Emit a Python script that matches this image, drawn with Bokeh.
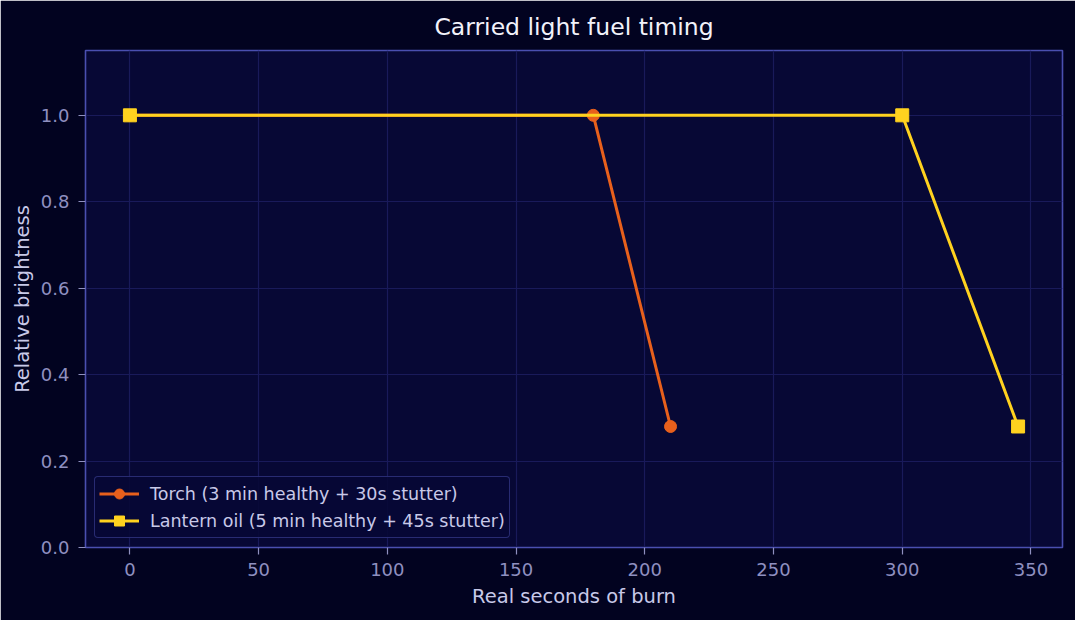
from bokeh.plotting import figure
from bokeh.embed import file_html
from bokeh.resources import INLINE
from bokeh.models import Range1d, FixedTicker, Title

torch_x = [0, 180, 210]
torch_y = [1.0, 1.0, 0.28]
lantern_x = [0, 300, 345]
lantern_y = [1.0, 1.0, 0.28]
torch_label = "Torch (3 min healthy + 30s stutter)"
lantern_label = "Lantern oil (5 min healthy + 45s stutter)"
x_ticks = [0, 50, 100, 150, 200, 250, 300, 350]
y_ticks = [0.0, 0.2, 0.4, 0.6, 0.8, 1.0]

BG = "#020320"
PLOT_BG = "#070835"
EDGE = "#4a4fb0"
GRID = "#191a5a"
TICK = "#8f90c0"
LABEL = "#c8c9e8"
TORCH = "#e8601c"
LANTERN = "#ffd21f"
FONT = "DejaVu Sans"

p = figure(width=1075, height=620, output_backend="svg", toolbar_location=None,
           x_range=Range1d(-17.25, 362.25), y_range=Range1d(0, 1.15),
           min_border_left=85, min_border_right=13, min_border_top=50, min_border_bottom=73)
p.background_fill_color = PLOT_BG
p.border_fill_color = BG
p.outline_line_color = EDGE
p.outline_line_width = 1.6

t = Title(text="Carried light fuel timing", text_color="#f2f2fa", text_font=FONT,
          text_font_size="23.5px", text_font_style="normal", align="center", standoff=20)
p.add_layout(t, "above")

p.line(torch_x, torch_y, line_color=TORCH, line_width=3, legend_label=torch_label)
p.scatter(torch_x, torch_y, marker="circle", size=12, fill_color=TORCH, line_color=TORCH,
          legend_label=torch_label)
p.line(lantern_x, lantern_y, line_color=LANTERN, line_width=3, legend_label=lantern_label)
p.scatter(lantern_x, lantern_y, marker="square", size=13, fill_color=LANTERN, line_color=LANTERN,
          legend_label=lantern_label)

p.xaxis.ticker = FixedTicker(ticks=x_ticks)
p.yaxis.ticker = FixedTicker(ticks=y_ticks)
p.yaxis.major_label_overrides = {v: f"{v:.1f}" for v in y_ticks}
for ax in (p.xaxis[0], p.yaxis[0]):
    ax.axis_line_color = None
    ax.major_tick_line_color = TICK
    ax.major_tick_line_width = 1.2
    ax.major_tick_out = 7
    ax.major_tick_in = 0
    ax.minor_tick_line_color = None
    ax.major_label_text_color = TICK
    ax.major_label_text_font = FONT
    ax.major_label_text_font_size = "18px"
    ax.axis_label_text_color = LABEL
    ax.axis_label_text_font = FONT
    ax.axis_label_text_font_size = "19.5px"
    ax.axis_label_text_font_style = "normal"
p.xaxis.axis_label = "Real seconds of burn"
p.yaxis.axis_label = "Relative brightness"
p.xaxis.major_label_standoff = 8
p.yaxis.major_label_standoff = 9
p.xaxis.axis_label_standoff = 6
p.yaxis.axis_label_standoff = 4

p.grid.grid_line_color = GRID
p.grid.grid_line_width = 1.2

p.legend.location = "bottom_left"
p.legend.margin = 9
p.legend.padding = 4
p.legend.spacing = 2
p.legend.background_fill_color = PLOT_BG
p.legend.background_fill_alpha = 0.9
p.legend.border_line_color = EDGE
p.legend.border_line_width = 1.5
p.legend.border_radius = 4
p.legend.label_text_color = LABEL
p.legend.label_text_font = FONT
p.legend.label_text_font_size = "17.5px"
p.legend.glyph_width = 40
p.legend.label_height = 25
p.legend.glyph_height = 25
p.legend.label_standoff = 11

open("out.html", "w").write(file_html(p, INLINE))
